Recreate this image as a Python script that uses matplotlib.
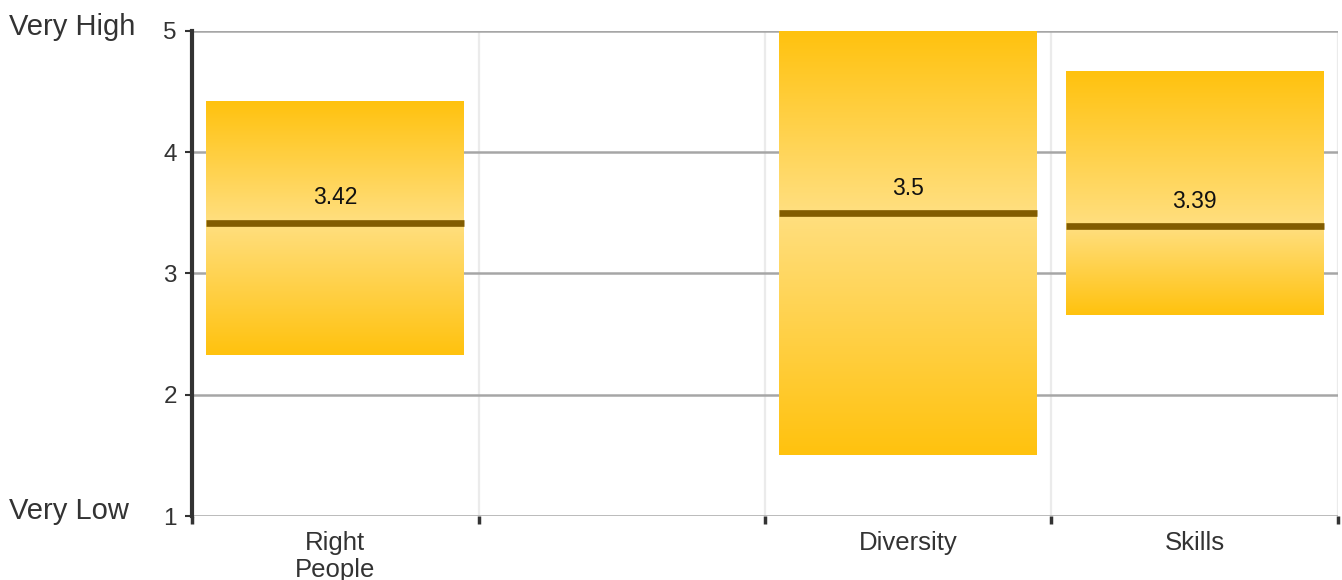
import numpy as np
import matplotlib.pyplot as plt
from matplotlib.colors import to_rgb
from matplotlib.transforms import blended_transform_factory

categories = ['Right\nPeople', '', 'Diversity', 'Skills']
lows = [2.33, None, 1.5, 2.66]
highs = [4.42, None, 5.0, 4.67]
means = [3.42, None, 3.5, 3.39]
mean_labels = ['3.42', '', '3.5', '3.39']

plt.rcParams['font.family'] = ['Liberation Sans', 'DejaVu Sans']

gold = np.array(to_rgb('#ffc20e'))
light = np.array(to_rgb('#ffdf80'))

fig = plt.figure(figsize=(13.42, 5.8), dpi=100)
ax = fig.add_axes([0.1431, 0.1103, 0.8539, 0.8363])

x = np.arange(len(categories))
width = 0.9

for i in range(len(categories)):
    if lows[i] is None:
        continue
    lo, hi, m = lows[i], highs[i], means[i]
    ys = np.linspace(lo, hi, 400)
    # 0 at the ends, 1 at the mean
    t = np.where(ys < m, (ys - lo) / (m - lo), (hi - ys) / (hi - m))
    t = np.clip(t, 0, 1)
    col = gold[None, :] + (light - gold)[None, :] * t[:, None]
    img = col[:, None, :]
    ax.imshow(img, extent=[x[i] - width / 2, x[i] + width / 2, lo, hi],
              origin='lower', aspect='auto', interpolation='bilinear', zorder=2)
    ax.plot([x[i] - width / 2, x[i] + width / 2], [m, m], color='#825c00',
            lw=4.8, solid_capstyle='butt', zorder=3)
    ax.text(x[i], m + 0.11, mean_labels[i], ha='center', va='bottom',
            fontsize=16.5, color='#111111', zorder=4)

ax.set_xlim(-0.5, len(categories) - 0.5)
ax.set_ylim(1, 5)

# grid
for yv in [1, 2, 3, 4, 5]:
    ax.axhline(yv, color='#a6a6a6', lw=1.8, zorder=1)
for xv in np.arange(len(categories) + 1) - 0.5:
    ax.axvline(xv, color='#ebebeb', lw=1.6, zorder=0.5)

ax.set_yticks([1, 2, 3, 4, 5])
ax.set_yticklabels(['1', '2', '3', '4', '5'], fontsize=17.5, color='#333333')
ax.tick_params(axis='y', length=5, width=1.5, color='#333333', pad=6)

ax.set_xticks(np.arange(len(categories) + 1) - 0.5)
ax.set_xticklabels([])
ax.tick_params(axis='x', which='major', length=6, width=2.5, color='#333333', direction='out')
ax.set_xticks(x, minor=True)
ax.set_xticklabels(categories, minor=True, fontsize=18.5, color='#333333', linespacing=1.15)
ax.tick_params(axis='x', which='minor', length=0, pad=11)

for s in ['top', 'right', 'bottom']:
    ax.spines[s].set_visible(False)
ax.spines['left'].set_color('#333333')
ax.spines['left'].set_linewidth(3)
ax.spines['left'].set_zorder(5)
ax.spines['left'].set_bounds(1, 5)

trans = blended_transform_factory(fig.transFigure, ax.transData)
ax.text(0.0067, 5.03, 'Very High', transform=trans, ha='left', va='center',
        fontsize=21, color='#333333')
ax.text(0.0067, 1.04, 'Very Low', transform=trans, ha='left', va='center',
        fontsize=21, color='#333333')

plt.savefig('out.png', dpi=100)
